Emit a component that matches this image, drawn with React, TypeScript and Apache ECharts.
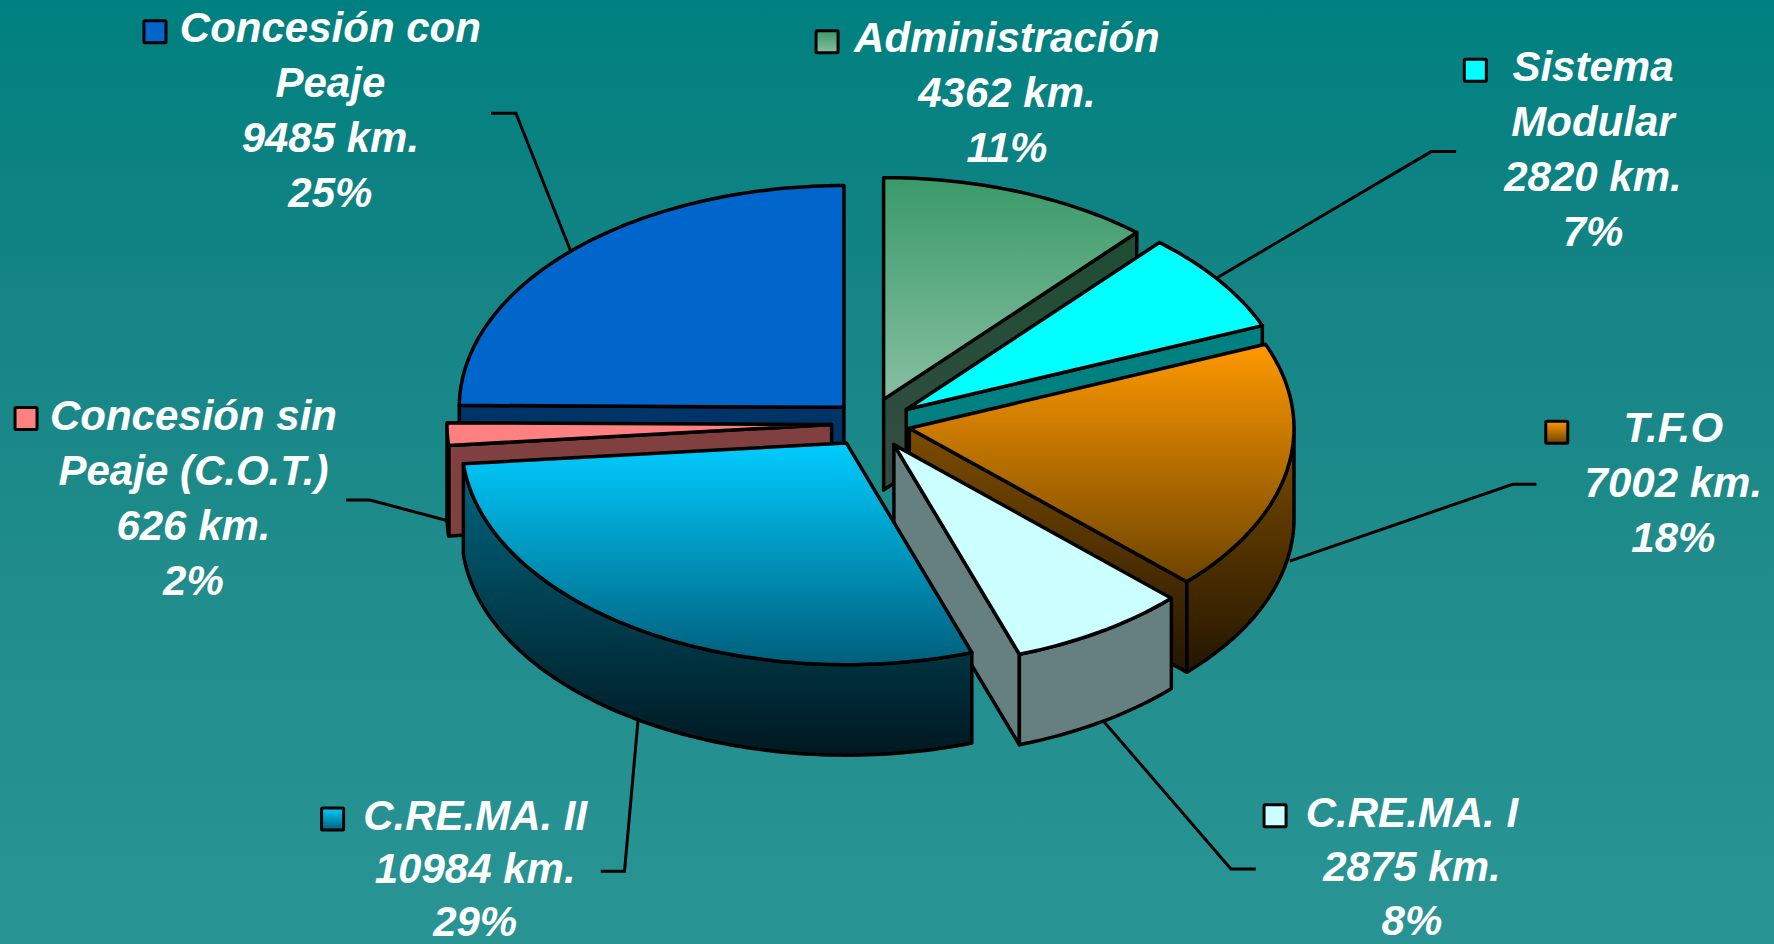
import React, { useEffect, useRef } from "react";
import * as echarts from "echarts";

// ---- data ----
const categories = [
  "Administración",
  "Sistema\nModular",
  "T.F.O",
  "C.RE.MA. I",
  "C.RE.MA. II",
  "Concesión sin\nPeaje (C.O.T.)",
  "Concesión con\nPeaje",
];
const kilometres = [4362, 2820, 7002, 2875, 10984, 626, 9485];

// ---- drawing constants (reference was measured at 1568 wide) ----
const S = 1774 / 1568;
const CX = 767 * S;
const CY = 374.5 * S;
const RX = 340 * S;
const RY = 196 * S;
const DEPTH = 80 * S;
const explodeX = [0.117, 0.123, 0.11, 0.126, 0.103, 0.094, 0.088];
const explodeY = [0.117, 0.11, 0.108, 0.112, 0.103, 0.094, 0.104];
const drawOrder = [6, 5, 0, 1, 2, 3, 4];

const grad = (a: string, b: string) =>
  new echarts.graphic.LinearGradient(0, 0, 0, 1, [
    { offset: 0, color: a },
    { offset: 1, color: b },
  ]);

const topFill = [
  () => grad("#3a9a68", "#86bfa2"),
  () => "#00ffff",
  () => grad("#ff9900", "#6e4400"),
  () => "#ccffff",
  () => grad("#00ccff", "#005f7c"),
  () => "#ff8080",
  () => "#0066cc",
];
const sideFill = [
  () => grad("#1d4d33", "#364c42"),
  () => "#008080",
  () => grad("#7d4d00", "#241600"),
  () => "#668080",
  () => grad("#006680", "#001820"),
  () => "#804040",
  () => "#003366",
];

// label placement: text centre x, first line centre y, line height, key centre x / y, leader polyline
const labelPos: { x: number; y: number; lh: number; kx: number; ky: number; leader: number[][] | null }[] = [
  { x: 890, y: 33, lh: 55, kx: 731, ky: 37, leader: null },
  { x: 1408, y: 59, lh: 55, kx: 1304, ky: 62, leader: [[1287, 134], [1265, 134], [1075, 246]] },
  { x: 1479, y: 378, lh: 55, kx: 1376, ky: 382, leader: [[1358, 428], [1337, 428], [1140, 496]] },
  { x: 1248, y: 718, lh: 54, kx: 1127, ky: 721, leader: [[1110, 768], [1088, 768], [975, 637]] },
  { x: 420, y: 721, lh: 53, kx: 294, ky: 724, leader: [[531, 770], [552, 770], [564, 636]] },
  { x: 171, y: 367, lh: 55, kx: 23, ky: 370, leader: [[306, 442], [327, 442], [395, 460]] },
  { x: 292, y: 24, lh: 55, kx: 137, ky: 28, leader: [[434, 100], [456, 100], [504, 221]] },
];

const total = kilometres.reduce((a, b) => a + b, 0);
const toAngle = (v: number) => echarts.number.linearMap(v, [0, total], [0, Math.PI * 2]);

const STROKE = "#000000";
const LW = 3.5;

function arcPoints(ax: number, ay: number, a0: number, a1: number, dy = 0) {
  const pts: number[][] = [];
  const n = Math.max(2, Math.ceil((a1 - a0) / 0.02));
  for (let k = 0; k <= n; k++) {
    const a = a0 + ((a1 - a0) * k) / n;
    pts.push([ax + RX * Math.sin(a), ay - RY * Math.cos(a) + dy]);
  }
  return pts;
}

function renderItem(params: any, api: any) {
  const i = api.value(0) as number;
  const v = api.value(1) as number;
  const before = kilometres.slice(0, i).reduce((a, b) => a + b, 0);
  const a0 = toAngle(before);
  const a1 = toAngle(before + v);
  const mid = (a0 + a1) / 2;
  const ax = CX + explodeX[i] * RX * Math.sin(mid);
  const ay = CY - explodeY[i] * RY * Math.cos(mid);
  const children: any[] = [];
  const pos = labelPos[i];

  if (pos.leader) {
    children.push({
      type: "polyline",
      shape: { points: pos.leader.map((p) => [p[0] * S, p[1] * S]) },
      style: { stroke: STROKE, lineWidth: 3, fill: null },
      silent: true,
    });
  }

  const side = (points: number[][]) =>
    children.push({
      type: "polygon",
      shape: { points },
      style: { fill: sideFill[i](), stroke: STROKE, lineWidth: LW, lineJoin: "round" },
      silent: true,
    });
  const radial = (a: number) => {
    const ex = ax + RX * Math.sin(a);
    const ey = ay - RY * Math.cos(a);
    side([
      [ax, ay],
      [ex, ey],
      [ex, ey + DEPTH],
      [ax, ay + DEPTH],
    ]);
  };

  // a cut face is seen when its outward normal points towards the viewer
  if (Math.cos(a0 - Math.PI / 2) < -1e-6) radial(a0);
  if (Math.cos(a1 + Math.PI / 2) < -1e-6) radial(a1);

  const w0 = Math.max(a0, Math.PI / 2);
  const w1 = Math.min(a1, (Math.PI * 3) / 2);
  if (w1 > w0) {
    side([...arcPoints(ax, ay, w0, w1), ...arcPoints(ax, ay, w0, w1, DEPTH).reverse()]);
  }

  children.push({
    type: "polygon",
    shape: { points: [[ax, ay], ...arcPoints(ax, ay, a0, a1)] },
    style: { fill: topFill[i](), stroke: STROKE, lineWidth: LW, lineJoin: "round" },
    silent: true,
  });

  // legend key + label
  children.push({
    type: "rect",
    shape: { x: pos.kx * S - 11, y: pos.ky * S - 11, width: 22, height: 22, r: 1 },
    style: { fill: topFill[i](), stroke: STROKE, lineWidth: 3 },
    silent: true,
  });
  const pct = Math.round((v / total) * 100);
  children.push({
    type: "text",
    x: pos.x * S,
    y: pos.y * S - pos.lh / 2,
    style: {
      text: `${categories[i]}\n${v} km.\n${pct}%`,
      fill: "#ffffff",
      fontFamily: '"Liberation Sans", Arial, sans-serif',
      fontStyle: "italic",
      fontWeight: "bold",
      fontSize: 42,
      lineHeight: pos.lh,
      align: "center",
      verticalAlign: "top",
    },
    silent: true,
  });

  return { type: "group", children };
}

export default function App() {
  const ref = useRef<HTMLDivElement>(null);
  useEffect(() => {
    document.body.style.margin = "0";
    const chart = echarts.init(ref.current!, undefined, { renderer: "svg" });
    chart.setOption({
      animation: false,
      backgroundColor: new echarts.graphic.LinearGradient(0, 0, 0, 1, [
        { offset: 0, color: "#008080" },
        { offset: 0.3, color: "#148484" },
        { offset: 0.6, color: "#208c8c" },
        { offset: 1, color: "#289494" },
      ]),
      series: [
        {
          type: "custom",
          coordinateSystem: "none",
          silent: true,
          clip: false,
          data: drawOrder.map((i) => [i, kilometres[i]]),
          renderItem,
        },
      ],
    });
    return () => chart.dispose();
  }, []);
  return <div ref={ref} style={{ width: 1774, height: 944 }} />;
}
